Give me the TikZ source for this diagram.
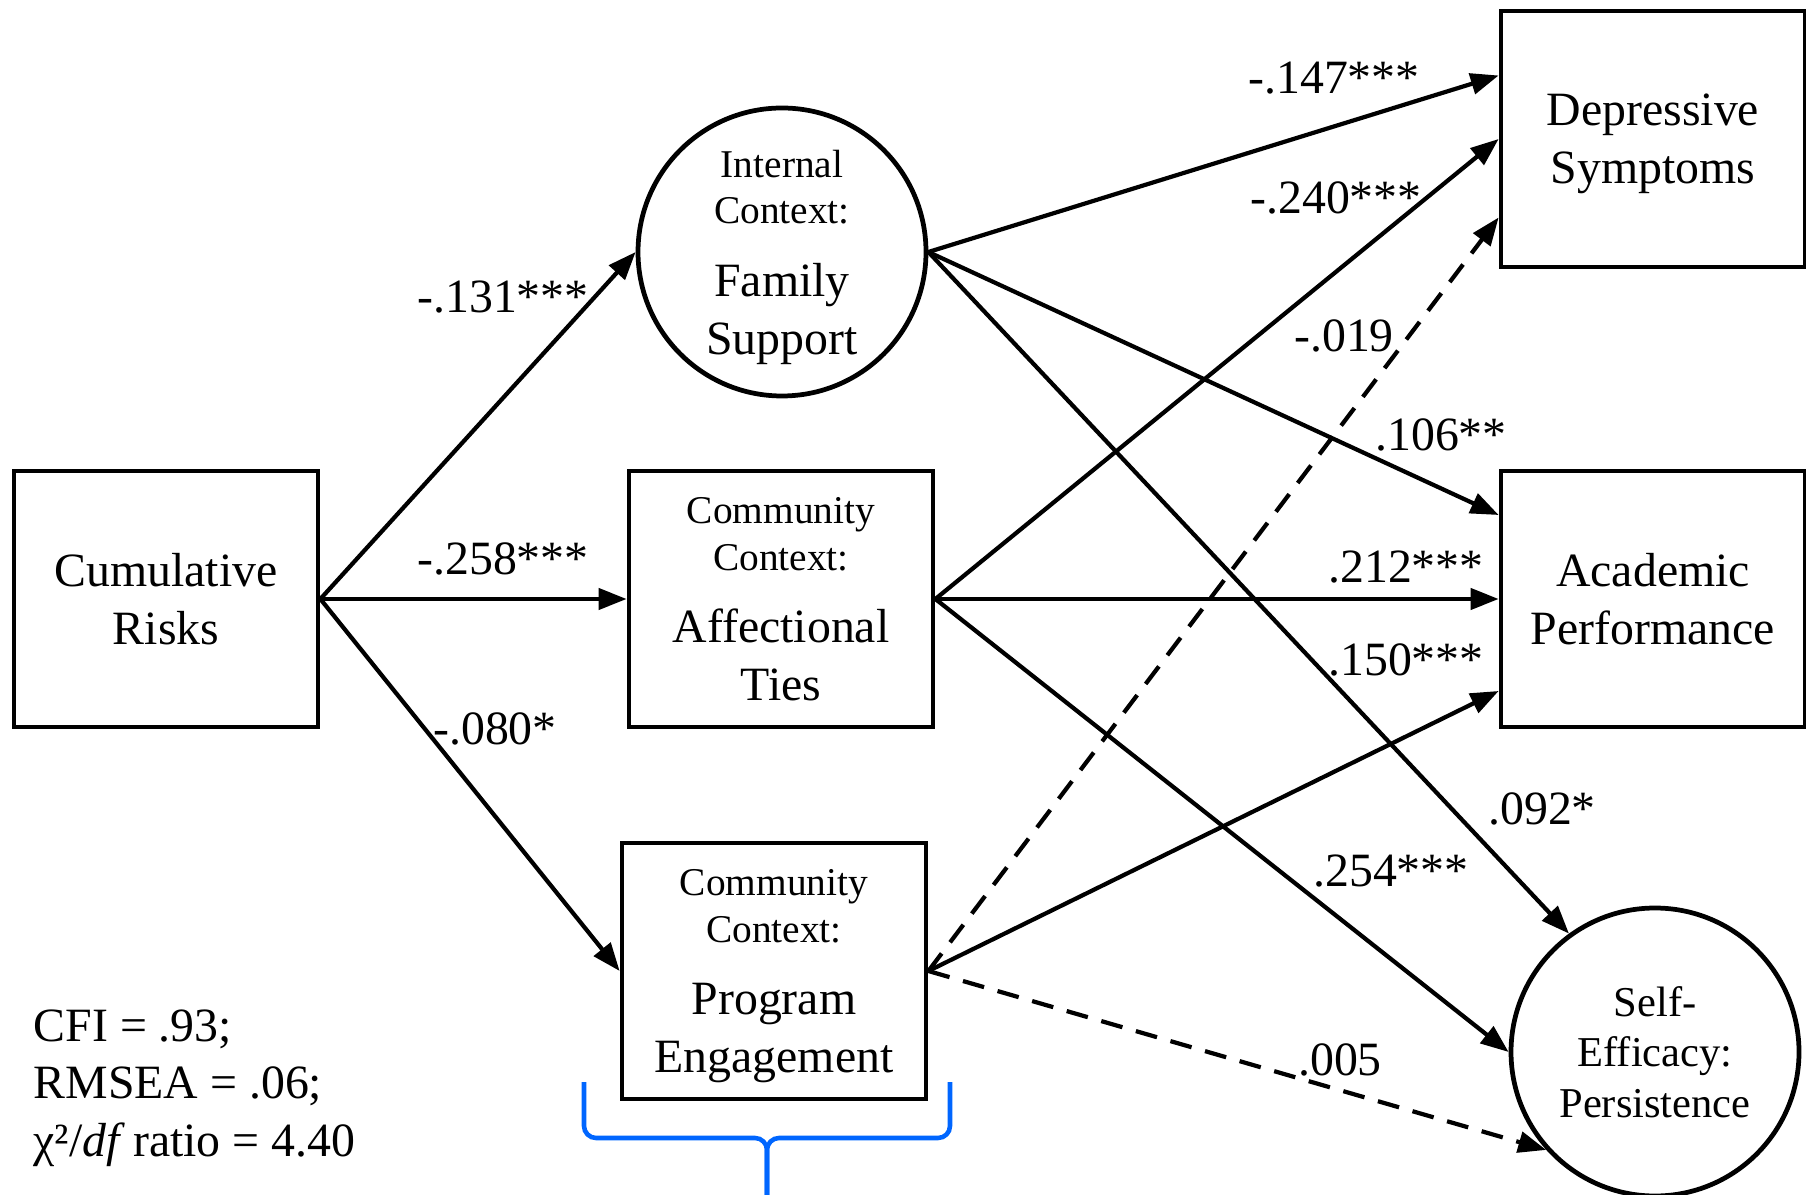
\documentclass[tikz,border=0pt]{standalone}
\usepackage{fontspec}
\setmainfont{Liberation Serif}
\usetikzlibrary{arrows.meta}
\definecolor{braceblue}{RGB}{0,102,255}
\newcommand{\bigsz}{\fontsize{13.6pt}{16.4pt}\selectfont}
\newcommand{\smallsz}{\fontsize{11.2pt}{13.3pt}\selectfont}
\newcommand{\midsz}{\fontsize{12.1pt}{14.5pt}\selectfont}

\begin{document}
\begin{tikzpicture}[x=0.1mm, y=-0.1mm,
    var/.style={draw, line width=1.35pt, minimum width=30.4mm, minimum height=25.6mm,
      inner sep=0pt, align=center, font=\bigsz, text depth=0pt},
    latent/.style={draw, circle, line width=1.35pt, minimum size=28.8mm,
      inner sep=0pt, align=center, font=\bigsz, text depth=0pt},
    effect/.style={line width=1.2pt, -{Triangle[length=2.8mm,width=2.1mm]}},
    nseffect/.style={effect, dash pattern=on 2.2mm off 1.4mm},
    coef/.style={font=\bigsz, inner sep=1pt},
    brace/.style={draw=braceblue, line width=1.3pt, rounded corners=1.2mm}]

  \useasboundingbox (0,0) rectangle (1806,1195);

  % variables
  \node[var] (risk) at (166,599) {Cumulative\\Risks};
  \node[latent] (family) at (782,252)
    {{\smallsz Internal}\\[-3.1pt]{\smallsz Context:}\\[4.3pt]Family\\Support};
  \node[var] (ties) at (781,599)
    {{\smallsz Community}\\[-3.1pt]{\smallsz Context:}\\[4.3pt]Affectional\\Ties};
  \node[var] (program) at (774,971)
    {{\smallsz Community}\\[-3.1pt]{\smallsz Context:}\\[4.3pt]Program\\Engagement};
  \node[var] (depress) at (1653,139) {Depressive\\Symptoms};
  \node[var] (academic) at (1653,599) {Academic\\Performance};
  \node[latent, font=\midsz] (efficacy) at (1655,1052) {Self-\\Efficacy:\\Persistence};

  % paths
  \draw[effect] (risk.east) -- (family.west);
  \draw[effect] (risk.east) -- (ties.west);
  \draw[effect] (risk.east) -- (program.west);

  \draw[effect] (family.east) -- ([yshift=6.35mm]depress.west);
  \draw[effect] (family.east) -- ([yshift=8.4mm]academic.west);
  \draw[effect] (family.east) -- (efficacy.126);

  \draw[effect] (ties.east) -- (depress.west);
  \draw[effect] (ties.east) -- (academic.west);
  \draw[effect] (ties.east) -- (efficacy.west);

  \draw[nseffect] (program.east) -- ([yshift=-7.85mm]depress.west);
  \draw[effect] (program.east) -- ([yshift=-9.2mm]academic.west);
  \draw[nseffect] (program.east) -- (efficacy.222);

  % coefficients
  \node[coef] (c1) at (503,297) {-.131***};
  \node[coef] (c2) at (503,559) {-.258***};
  \node[coef] (c3) at (495,729) {-.080*};
  \node[coef] (c4) at (1334,78) {-.147***};
  \node[coef] (c5) at (1336,198) {-.240***};
  \node[coef] (c6) at (1344,336) {-.019};
  \node[coef] (c7) at (1441,435) {.106**};
  \node[coef] (c8) at (1406,567) {.212***};
  \node[coef] (c9) at (1406,660) {.150***};
  \node[coef] (c10) at (1542,809) {.092*};
  \node[coef] (c11) at (1391,871) {.254***};
  \node[coef] (c12) at (1340,1060) {.005};

  % fit indices
  \node[anchor=north west, align=left, font=\bigsz, inner sep=0pt] (fit) at (33,1009)
    {CFI = .93;\\RMSEA = .06;\\χ²/\textit{df}\,ratio = 4.40};

  % brace
  \draw[brace] (584,1082) |- (767,1138) -- (767,1195);
  \draw[brace] (950,1082) |- (767,1138) -- (767,1195);
\end{tikzpicture}
\end{document}
